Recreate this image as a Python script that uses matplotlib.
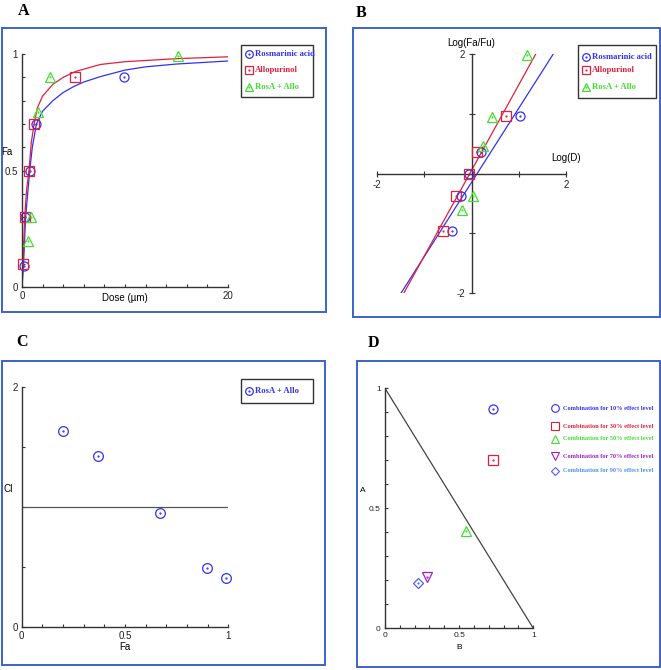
"""
    Four panel combination analysis figure (dose-effect, median-effect,
    combination index and isobologram) for rosmarinic acid + allopurinol.
"""
# Modules:
import matplotlib
matplotlib.use("Agg")
import matplotlib.pyplot as plt

# Data:
# Panel A: dose-effect points (dose in um, fraction affected)
dose_rosa = [0.16, 0.3, 0.74, 1.4, 9.9]
fa_rosa = [0.09, 0.3, 0.5, 0.7, 0.9]
dose_allo = [0.1, 0.26, 0.68, 1.17, 5.1]
fa_allo = [0.1, 0.3, 0.5, 0.7, 0.9]
dose_combo = [0.55, 0.9, 1.6, 2.7, 15.1]
fa_combo = [0.2, 0.3, 0.75, 0.9, 0.99]

# Panel A: fitted curves
curve_dose_rosa = [0, 0.15, 0.35, 0.75, 1.0, 1.4, 2, 3, 4, 5, 6, 7.6, 10, 12, 15, 20]
curve_fa_rosa = [0, 0.1, 0.3, 0.5, 0.6, 0.7, 0.755, 0.8, 0.835, 0.86, 0.88, 0.903,
                 0.931, 0.945, 0.957, 0.97]
curve_dose_allo = [0, 0.1, 0.26, 0.45, 0.68, 0.9, 1.17, 1.5, 2, 3, 4, 5.2, 7.6, 10, 15, 20]
curve_fa_allo = [0, 0.1, 0.3, 0.42, 0.5, 0.62, 0.7, 0.77, 0.82, 0.87, 0.9, 0.925,
                 0.955, 0.967, 0.98, 0.988]

# Panel B: median-effect plot, log(D) vs log(Fa/Fu)
logd_rosa = [-0.42, -0.23, -0.05, 0.2, 1.02]
logfa_rosa = [-0.96, -0.37, 0.0, 0.36, 0.96]
logd_allo = [-0.6, -0.33, -0.06, 0.12, 0.73]
logfa_allo = [-0.96, -0.37, 0.0, 0.36, 0.96]
logd_combo = [-0.2, 0.02, 0.25, 0.44, 1.18]
logfa_combo = [-0.61, -0.37, 0.46, 0.95, 1.98]
line_x_rosa = [-1.5, 1.73]
line_y_rosa = [-2.0, 2.0]
line_x_allo = [-1.44, 1.38]
line_y_allo = [-2.0, 2.03]

# Panel C: combination index
ci_fa = [0.198, 0.368, 0.668, 0.898, 0.987]
ci_val = [1.635, 1.43, 0.953, 0.487, 0.41]

# Panel D: isobologram
iso_b = [0.728, 0.73, 0.544, 0.281, 0.22]
iso_a = [0.914, 0.70, 0.407, 0.215, 0.19]
iso_labels = ["Combination for 10% effect level", "Combination for 30% effect level",
              "Combination for 50% effect level", "Combination for 70% effect level",
              "Combination for 90% effect level"]

# Styles:
BLUE = "#3232f0"
RED = "#e2203c"
GREEN = "#44dd33"
PURPLE = "#a020c8"
LBLUE = "#4f8ff0"
FRAME = "#3c64c8"
AXC = "#333333"
W, H = 661, 670

plt.rcParams["font.family"] = ["Liberation Sans", "DejaVu Sans"]

fig = plt.figure(figsize=(W / 100, H / 100), dpi=100)


def px_axes(x0, x1, y_top, y_bot):
    """ Add axes from pixel positions. """
    return fig.add_axes([x0 / W, 1 - y_bot / H, (x1 - x0) / W, (y_bot - y_top) / H])


def marker_pts(ax, x, y, color, marker, ms=6.5):
    """ Open marker with a little dot in the middle. """
    ax.plot(x, y, ls="none", marker=marker, ms=ms, mfc="none", mec=color,
            mew=0.9, clip_on=False, zorder=5)
    ax.plot(x, y, ls="none", marker=".", ms=1.2, color=color, clip_on=False, zorder=5)


def base_style(ax):
    for s in ["top", "right"]:
        ax.spines[s].set_visible(False)
    for s in ["left", "bottom"]:
        ax.spines[s].set_color(AXC)
        ax.spines[s].set_linewidth(1.0)
    ax.set_facecolor("none")
    ax.tick_params(direction="in", length=2.5, width=0.8, color=AXC,
                   labelsize=7, labelcolor="#222222", pad=3)


# ---- Panel A ----
axA = px_axes(22, 228, 54, 287.3)
base_style(axA)
axA.plot(curve_dose_rosa, curve_fa_rosa, color=BLUE, lw=0.9)
axA.plot(curve_dose_allo, curve_fa_allo, color=RED, lw=0.9)
marker_pts(axA, dose_rosa, fa_rosa, BLUE, "o")
marker_pts(axA, dose_allo, fa_allo, RED, "s")
marker_pts(axA, dose_combo, fa_combo, GREEN, "^")
axA.set_xlim(0, 20)
axA.set_ylim(0, 1)
axA.set_xticks([i * 2 for i in range(11)])
axA.set_xticklabels(["0"] + [""] * 9 + ["20"])
axA.set_yticks([i / 10 for i in range(11)])
axA.set_yticklabels(["0"] + [""] * 4 + ["0.5"] + [""] * 4 + ["1"])
axA.set_xlabel("Dose (\u00b5m)", fontsize=7, labelpad=-6)
axA.set_ylabel("Fa", fontsize=7, rotation=0, labelpad=2)
axA.yaxis.set_label_coords(-0.075, 0.56)

# ---- Panel B ----
axB = px_axes(377.3, 566, 54, 293.3)
axB.set_facecolor("none")
for s in ["top", "right"]:
    axB.spines[s].set_visible(False)
for s in ["left", "bottom"]:
    axB.spines[s].set_position("zero")
    axB.spines[s].set_color(AXC)
    axB.spines[s].set_linewidth(1.0)
axB.plot(line_x_rosa, line_y_rosa, color=BLUE, lw=0.9)
axB.plot(line_x_allo, line_y_allo, color=RED, lw=0.9)
marker_pts(axB, logd_rosa, logfa_rosa, BLUE, "o")
marker_pts(axB, logd_allo, logfa_allo, RED, "s")
marker_pts(axB, logd_combo, logfa_combo, GREEN, "^")
axB.set_xlim(-2, 2)
axB.set_ylim(-2, 2)
axB.set_xticks([-2, -1, 1, 2])
axB.set_xticklabels(["-2", "", "", "2"])
axB.set_yticks([-2, -1, 1, 2])
axB.set_yticklabels(["-2", "", "", "2"])
axB.tick_params(direction="inout", length=5, width=0.8, color=AXC,
                labelsize=7, labelcolor="#222222", pad=2)
axB.text(2.0, 0.18, "Log(D)", fontsize=7, ha="center", va="bottom")
axB.text(0.0, 2.1, "Log(Fa/Fu)", fontsize=7, ha="center", va="bottom")

# ---- Panel C ----
axC = px_axes(21.7, 228.3, 387.3, 626.7)
base_style(axC)
axC.plot([0, 1], [1, 1], color="#555555", lw=0.9)
marker_pts(axC, ci_fa, ci_val, BLUE, "o", ms=7)
axC.set_xlim(0, 1)
axC.set_ylim(0, 2)
axC.set_xticks([i / 10 for i in range(11)])
axC.set_xticklabels(["0"] + [""] * 4 + ["0.5"] + [""] * 4 + ["1"])
axC.set_yticks([0, 0.5, 1, 1.5, 2])
axC.set_yticklabels(["0", "", "", "", "2"])
axC.set_xlabel("Fa", fontsize=7, labelpad=1)
axC.set_ylabel("CI", fontsize=7, rotation=0, labelpad=2)
axC.yaxis.set_label_coords(-0.065, 0.555)

# ---- Panel D ----
axD = px_axes(385, 533.3, 388.3, 628.3)
base_style(axD)
axD.tick_params(labelsize=6)
axD.plot([0, 1], [1, 0], color="#444444", lw=0.9)
iso_colors = [BLUE, RED, GREEN, PURPLE, "#5060f0"]
iso_markers = ["o", "s", "^", "v", "D"]
for b, a, c, m in zip(iso_b, iso_a, iso_colors, iso_markers):
    marker_pts(axD, [b], [a], c, m, ms=5 if m == "D" else 6.5)
axD.set_xlim(0, 1)
axD.set_ylim(0, 1)
axD.set_xticks([i / 10 for i in range(11)])
axD.set_xticklabels(["0"] + [""] * 4 + ["0.5"] + [""] * 4 + ["1"])
axD.set_yticks([i / 10 for i in range(11)])
axD.set_yticklabels(["0"] + [""] * 4 + ["0.5"] + [""] * 4 + ["1"])
axD.set_xlabel("B", fontsize=6, labelpad=3)
axD.set_ylabel("A", fontsize=6, rotation=0, labelpad=2)
axD.yaxis.set_label_coords(-0.15, 0.56)

# ---- Overlay: frames, panel letters, legends ----
ov = fig.add_axes([0, 0, 1, 1], zorder=10)
ov.set_xlim(0, W)
ov.set_ylim(H, 0)
ov.axis("off")

frames = [(1.7, 27.7, 325.7, 312.3), (352.7, 27.7, 660, 316.7),
          (1.7, 360.7, 325, 665), (357.3, 360.7, 660, 666.7)]
for x0, y0, x1, y1 in frames:
    ov.add_patch(plt.Rectangle((x0, y0), x1 - x0, y1 - y0, fill=False,
                               ec=FRAME, lw=1.4))

for letter, x, y in [("A", 24, 11), ("B", 361, 13), ("C", 22, 342), ("D", 373, 343)]:
    ov.text(x, y, letter, fontsize=11.5, fontweight="bold", ha="center", va="center",
            family="Liberation Serif")

legend_names = ["Rosmarinic acid", "Allopurinol", "RosA + Allo"]
legend_colors = [BLUE, RED, GREEN]
legend_markers = ["o", "s", "^"]


def legend_box(x0, y0, x1, y1, rows, names, colors, markers):
    ov.add_patch(plt.Rectangle((x0, y0), x1 - x0, y1 - y0, fill=True, fc="white",
                               ec="#333333", lw=1.0))
    for ry, name, c, m in zip(rows, names, colors, markers):
        ov.plot([x0 + 8], [ry], ls="none", marker=m, ms=5.5, mfc="none", mec=c, mew=0.9)
        ov.plot([x0 + 8], [ry], ls="none", marker=".", ms=1.2, color=c)
        ov.text(x0 + 14, ry, name, fontsize=6.2, fontweight="bold", color=c,
                family="Liberation Serif", ha="left", va="center")


legend_box(240.7, 45, 312.7, 97.3, [54, 70, 87], legend_names, legend_colors,
           legend_markers)
legend_box(578, 45, 656, 98, [57, 70, 87], legend_names, legend_colors,
           legend_markers)
legend_box(240.7, 379.3, 312.7, 403.3, [391], ["RosA + Allo"], [BLUE], ["o"])

# Panel D legend (no box)
iso_text_colors = [BLUE, RED, GREEN, PURPLE, LBLUE]
for ry, name, c, m in zip([408, 426, 439, 456, 471], iso_labels, iso_text_colors,
                          iso_markers):
    ov.plot([555], [ry], ls="none", marker=m, ms=5.5 if m != "D" else 4.5, mfc="none",
            mec=c if m != "D" else "#5060f0", mew=0.8)
    ov.text(563, ry, name, fontsize=4.6, fontweight="bold", color=c,
            family="Liberation Serif", ha="left", va="center")

fig.savefig("out.png", dpi=100)
